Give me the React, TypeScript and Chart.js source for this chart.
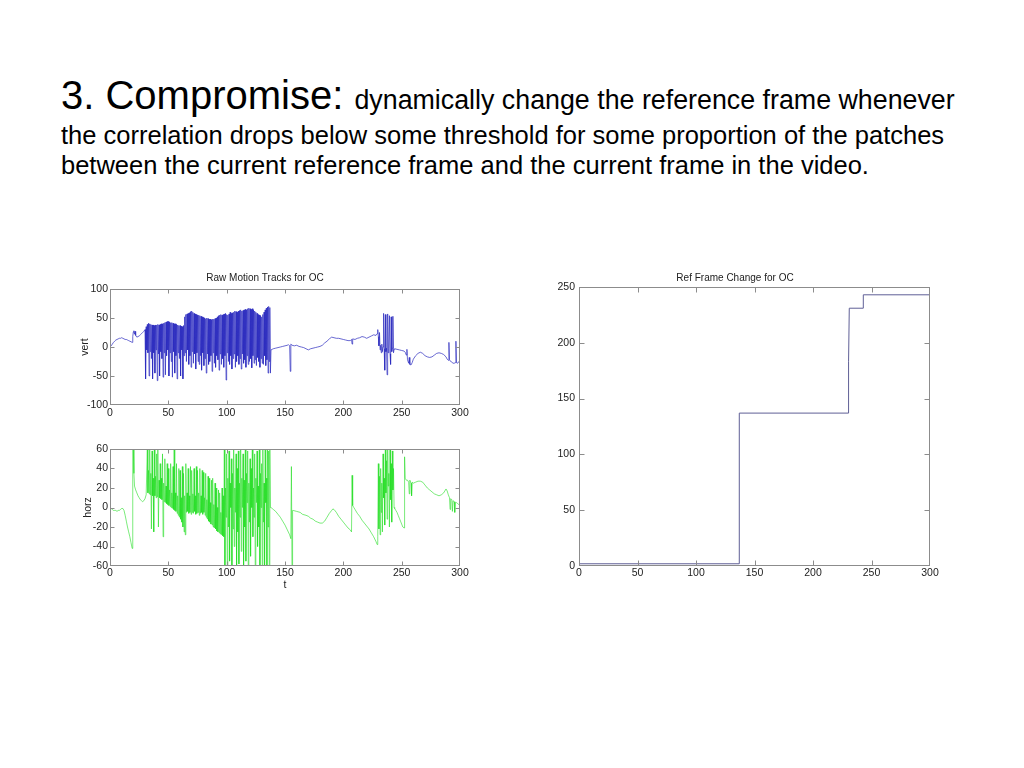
import React, { useEffect, useRef } from "react";
import { Chart, registerables } from "chart.js";

Chart.register(...registerables);

const FONT = '"Liberation Sans", Arial, Helvetica, sans-serif';

// ---------- Top panel: vertical motion ("vert") ----------
const vertPre: number[][] = [
  [0, 0], [1, 2], [2, 5], [3, 8], [4, 10], [5, 12], [6, 13], [7, 14], [8, 15], [9, 15],
  [10, 16], [11, 15], [12, 14], [13, 13], [14, 13], [15, 12], [16, 11], [17, 10], [18, 9], [19, 8],
  [19.5, 18], [20, 26], [20.5, 28], [21, 22], [21.5, 27], [22, 20], [23, 17], [24, 18], [25, 19],
  [26, 21], [27, 23], [28, 25], [29, 27],
];
const vertBurstStart = 30;
const vertBurstTop: number[] = [
  30, 35, 39, 41, 40, 39, 38, 38, 37, 38,
  38, 39, 38, 39, 40, 40, 41, 42, 43, 44,
  44, 43, 42, 42, 41, 40, 40, 39, 38, 37,
  37, 36, 35, 37, 52, 56, 57, 58, 59, 61,
  62, 60, 58, 57, 56, 55, 55, 54, 53, 52,
  51, 50, 49, 50, 49, 48, 48, 47, 48, 48,
  49, 50, 52, 54, 55, 56, 55, 56, 57, 58,
  56, 55, 57, 60, 58, 59, 60, 62, 61, 60,
  62, 63, 64, 62, 63, 64, 65, 64, 66, 67,
  66, 65, 66, 64, 62, 60, 58, 56, 55, 54,
  52, 56, 60, 64, 67, 69, 70, 68,
];
const vertBurstLow: number[] = [
  -55, -5, -10, -50, -8, -20, -55, -10, -45, -5,
  -58, -12, -50, -8, -20, -52, -10, -48, -15, -5,
  -50, -10, -25, -52, -8, -45, -15, -55, -10, -20,
  -50, -5, -55, -15, -10, -25, -5, -30, -15, -35,
  -8, -28, -12, -38, -10, -25, -30, -15, -40, -10,
  -32, -20, -45, -12, -30, -25, -15, -42, -10, -28,
  -35, -15, -22, -40, -12, -30, -20, -35, -15, -57,
  -10, -25, -30, -15, -38, -20, -12, -35, -25, -15,
  -30, -20, -38, -12, -28, -22, -35, -15, -30, -25,
  -20, -36, -15, -28, -22, -32, -18, -25, -35, -20,
  -28, -30, -15, -32, -22, -45, -25, -45,
];
const vertMid: number[][] = [
  [138, -5], [139, -4], [140, -3], [142, -2], [144, -1], [146, 0], [148, 1], [150, 2], [152, 3],
  [153, 4], [154, 2], [154.5, -42], [155, 5], [156, 3], [158, 2], [160, 3], [162, 1], [164, 0],
  [166, -1], [168, -3], [170, -5], [172, -3], [174, -2], [176, -1], [178, 0], [180, 1], [182, 3],
  [184, 7], [186, 10], [188, 14], [190, 17], [192, 16], [194, 15], [196, 15], [198, 14], [200, 13],
  [202, 12], [204, 11], [206, 11], [207, 13], [207.5, 5], [208, 14], [210, 13], [212, 15], [214, 16],
  [216, 18], [218, 17], [220, 15], [222, 17], [224, 19], [226, 21], [228, 20], [229, 23], [229.5, 30],
];
const vertBurst2: number[][] = [
  [230, 18], [230.5, 2], [231, 25], [231.5, -5], [232, 3], [232.5, -10], [233, 5], [233.5, -8],
  [234, 0], [234.5, 58], [235, -3], [235.5, -40], [236, 56], [236.5, -8], [237, -2], [237.5, -48],
  [238, 57], [238.5, -10], [239, -3], [239.5, 54], [240, -12], [240.5, -30], [241, 52], [241.5, -8],
  [242, -2], [242.5, 53], [243, -10], [243.5, -4],
];
const vertPost: number[][] = [
  [244, -3], [246, -4], [248, -5], [250, -6], [252, -7], [253, -9], [254, -14], [254.5, -4],
  [255, -22], [256, -28], [256.5, -18], [257, -30], [258, -31], [259, -27], [260, -21], [262, -15],
  [264, -11], [266, -9], [268, -11], [270, -15], [272, -17], [274, -18], [276, -17], [278, -14],
  [280, -11], [282, -10], [284, -11], [286, -13], [288, -17], [289, -21], [290, -23], [290.5, 8],
  [291, -22], [292, -25], [293, -26], [294, -28], [295, -28], [296, -27], [296.5, 10], [297, -27],
  [298, -28], [299, -25], [300, -24],
];

// ---------- Bottom panel: horizontal motion ("horz") ----------
const horzPre: number[][] = [
  [0, 0], [1, -1], [2, -2], [3, -3], [4, -3], [5, -3], [6, -4], [7, -3], [8, -3], [9, -2],
  [10, -1], [11, -1], [12, -3], [13, -8], [14, -14], [15, -20], [16, -25], [17, -30], [18, -36],
  [19, -42], [19.5, 62], [20, 62], [20.5, 35], [21, 22], [22, 18], [23, 15], [24, 12], [25, 10],
  [26, 8], [27, 7], [28, 6], [29, 7], [30, 9], [31, 13],
];
const horzBurstAStart = 32;
const horzBurstATop: number[] = [
  60, 38, 62, 35, 58, 30, 62, 32, 55, 62,
  28, 45, 30, 55, 25, 50, 22, 45, 40, 18,
  45, 15, 42, 62, 15, 45, 12, 40, 38, 10,
  42, 35, 12, 45, 15, 40, 12, 42, 38, 14,
  40, 12, 42, 38, 15, 40, 12, 38, 36, 10,
  35, 8, 32, 30, 5, 28, 30, 3, 25, 20,
  0, 18, 15, -5, 20, 12,
];
const horzBurstALow: number[] = [
  15, 14, 13, -22, 12, -25, 12, 10, 11, -20,
  10, 9, 8, -30, 6, 5, 4, 3, 2, 1,
  0, -1, -2, -3, -4, -6, -8, -10, -12, -15,
  -20, -25, -28, -5, -4, -6, -5, -7, -5, -6,
  -4, -7, -6, -5, -8, -6, -5, -7, -5, -8,
  -10, -12, -14, -15, -17, -18, -20, -21, -22, -24,
  -25, -26, -27, -28, -29, -30,
];
const horzBurstBStart = 98;
const horzBurstBTop: number[] = [
  62, 20, 55, 30, 58, 25, 50, 35, 62, 20,
  55, 40, 58, 25, 62, 30, 55, 28, 62, 35,
  58, 25, 50, 40, 62, 20, 55, 30, 58, 22,
  62, 35, 45, 62, 25, 62, 30, 62, 58, 62,
];
const horzBurstBLow: number[] = [
  -62, -10, -62, -20, -55, 0, -62, -22, -40, -5,
  -62, -25, -58, -10, -45, 0, -62, -20, -55, 5,
  -62, -15, -50, 0, -30, -10, -62, 5, -40, -20,
  -62, 0, -62, -15, -62, 5, -62, -20, -62, 0,
];
const horzMid: number[][] = [
  [138, 0], [139, -1], [140, -2], [142, -4], [144, -7], [146, -10], [148, -14], [150, -18],
  [152, -23], [154, -28], [155, -32], [155.5, 42], [156, -62], [156.5, -3], [157, -3], [160, -4],
  [163, -5], [165, -7], [168, -8], [170, -9], [172, -11], [174, -12], [176, -14], [178, -15],
  [180, -16], [182, -16], [184, -14], [186, -10], [188, -6], [190, -3], [191, -1.5], [192, -2],
  [194, -5], [196, -9], [198, -12], [200, -15], [202, -18], [204, -21], [206, -23], [207, -25],
  [207.5, 33], [208, 2], [209, 0], [210, -2], [212, -6], [214, -9], [216, -13], [218, -16],
  [220, -19], [222, -22], [224, -26], [226, -30], [228, -35], [229, -38], [229.5, -30],
];
const horzBurstC: number[][] = [
  [230, 45], [230.5, -22], [231, 32], [231.5, -28], [232, 40], [232.5, -5], [233, 25], [233.5, -25],
  [234, 55], [234.5, 10], [235, 30], [235.5, -18], [236, 62], [236.5, 15], [237, 48], [237.5, -12],
  [238, 62], [238.5, 22], [239, 35], [239.5, -20], [240, 62], [240.5, 8], [241, 45], [241.5, -15],
  [242, 58], [242.5, 18], [243, 40], [243.5, 0],
];
const horzPost: number[][] = [
  [244, -1], [245, -3], [246, -5], [247, -8], [248, -11], [249, -14], [250, -17], [251, -20],
  [252, -21], [252.5, 52], [253, 30], [254, 28], [255, 28], [256, 26], [256.5, 14], [257, 28],
  [258, 25], [258.5, 12], [259, 26], [260, 25], [262, 26], [264, 27], [266, 27], [268, 26],
  [270, 23], [272, 20], [274, 18], [276, 16], [278, 14], [280, 13], [282, 12], [284, 13],
  [286, 15], [288, 19], [289, 17], [290, 13], [291, 10], [291.5, -2], [292, 9], [293, 8],
  [293.5, -4], [294, 7], [295, 6], [295.5, -5], [296, 5], [297, 5], [298, 4], [299, 3], [300, 2],
];

// ---------- Right panel: reference frame change ----------
const refT: number[] = [0, 137, 137, 230, 230.4, 231, 243, 243, 300];
const refY: number[] = [2, 2, 137, 137, 183, 231, 231, 243, 243];

// ---------- Axis ticks ----------
const xTicks: number[] = [0, 50, 100, 150, 200, 250, 300];
const vertTicks: number[] = [-100, -50, 0, 50, 100];
const horzTicks: number[] = [-60, -40, -20, 0, 20, 40, 60];
const refTicks: number[] = [0, 50, 100, 150, 200, 250];

type Pt = { x: number; y: number };
const pairs = (list: number[][]): Pt[] => list.map(([x, y]) => ({ x, y }));
const burst = (start: number, tops: number[], lows: number[]): Pt[] => {
  const out: Pt[] = [];
  tops.forEach((t, i) => {
    out.push({ x: start + i, y: t });
    out.push({ x: start + i + 0.5, y: lows[i] });
  });
  return out;
};

const vertSeries: Pt[] = [
  ...pairs(vertPre),
  ...burst(vertBurstStart, vertBurstTop, vertBurstLow),
  ...pairs(vertMid),
  ...pairs(vertBurst2),
  ...pairs(vertPost),
];
const horzSeries: Pt[] = [
  ...pairs(horzPre),
  ...burst(horzBurstAStart, horzBurstATop, horzBurstALow),
  ...burst(horzBurstBStart, horzBurstBTop, horzBurstBLow),
  ...pairs(horzMid),
  ...pairs(horzBurstC),
  ...pairs(horzPost),
];
const refSeries: Pt[] = refT.map((x, i) => ({ x, y: refY[i] }));

type Spec = {
  left: number; top: number; width: number; height: number;
  data: Pt[]; color: string; lineWidth: number;
  yMin: number; yMax: number; yTickList: number[];
  title?: string; yTitle?: string; xTitle?: string;
  yAxisWidth: number; xAxisHeight: number;
  padTop: number; padRight: number; titleBottom: number;
  yTitlePad: number; xTitlePad: number; yTickPad: number; xTickPad: number;
  tickLen: number;
};

const framePlugin = (tickLen: number) => ({
  id: "matlabFrame",
  afterDatasetsDraw(chart: any) {
    const { ctx, chartArea: a, scales } = chart;
    ctx.save();
    ctx.strokeStyle = "#8c8c8c";
    ctx.lineWidth = 1;
    ctx.beginPath();
    const L = Math.round(a.left) + 0.5, R = Math.round(a.right) - 0.5;
    const T = Math.round(a.top) + 0.5, B = Math.round(a.bottom) - 0.5;
    const clamp = (v: number, lo: number, hi: number) => Math.min(hi, Math.max(lo, v));
    for (const t of scales.x.ticks) {
      const px = clamp(Math.round(scales.x.getPixelForValue(t.value)) + 0.5, L, R);
      ctx.moveTo(px, B); ctx.lineTo(px, B - tickLen);
      ctx.moveTo(px, T); ctx.lineTo(px, T + tickLen);
    }
    for (const t of scales.y.ticks) {
      const py = clamp(Math.round(scales.y.getPixelForValue(t.value)) + 0.5, T, B);
      ctx.moveTo(L, py); ctx.lineTo(L + tickLen, py);
      ctx.moveTo(R, py); ctx.lineTo(R - tickLen, py);
    }
    ctx.stroke();
    ctx.strokeRect(L, T, R - L, B - T);
    ctx.restore();
  },
});

function Panel({ s }: { s: Spec }) {
  const ref = useRef<HTMLCanvasElement>(null);
  useEffect(() => {
    const tickFont = { family: FONT, size: 10.5 };
    const chart = new Chart(ref.current as HTMLCanvasElement, {
      type: "line",
      data: {
        datasets: [
          {
            data: s.data as any,
            borderColor: s.color,
            borderWidth: s.lineWidth,
            pointRadius: 0,
            fill: false,
            tension: 0,
          },
        ],
      },
      options: {
        responsive: false,
        animation: false,
        events: [],
        layout: { padding: { top: s.padTop, right: s.padRight, bottom: 0, left: 0 } },
        plugins: {
          legend: { display: false },
          tooltip: { enabled: false },
          title: {
            display: !!s.title,
            text: s.title || "",
            color: "#222",
            font: { family: FONT, size: 10, weight: "normal", lineHeight: "10px" } as any,
            padding: { top: 0, bottom: s.titleBottom },
          },
        },
        scales: {
          x: {
            type: "linear",
            min: 0,
            max: 300,
            afterBuildTicks: (sc: any) => { sc.ticks = xTicks.map((v) => ({ value: v })); },
            afterFit: (sc: any) => { sc.height = s.xAxisHeight; },
            ticks: { autoSkip: false, maxRotation: 0, padding: s.xTickPad, color: "#222", font: tickFont },
            grid: { display: false, drawTicks: false, tickLength: 0 },
            border: { display: false },
            title: {
              display: !!s.xTitle,
              text: s.xTitle || "",
              color: "#222",
              font: tickFont,
              padding: { top: 0, bottom: s.xTitlePad },
            },
          },
          y: {
            type: "linear",
            min: s.yMin,
            max: s.yMax,
            afterBuildTicks: (sc: any) => { sc.ticks = s.yTickList.map((v) => ({ value: v })); },
            afterFit: (sc: any) => { sc.width = s.yAxisWidth; },
            ticks: { padding: s.yTickPad, color: "#222", font: tickFont },
            grid: { display: false, drawTicks: false, tickLength: 0 },
            border: { display: false },
            title: {
              display: !!s.yTitle,
              text: s.yTitle || "",
              color: "#222",
              font: tickFont,
              padding: { top: s.yTitlePad, bottom: 0 },
            },
          },
        },
      },
      plugins: [framePlugin(s.tickLen)],
    });
    return () => chart.destroy();
  }, []);
  return (
    <canvas
      ref={ref}
      width={s.width}
      height={s.height}
      style={{ position: "absolute", left: s.left, top: s.top, width: s.width, height: s.height }}
    />
  );
}

const vertSpec: Spec = {
  left: 70, top: 273, width: 410, height: 152,
  data: vertSeries, color: "#2a2abe", lineWidth: 0.7,
  yMin: -100, yMax: 100, yTickList: vertTicks,
  title: "Raw Motion Tracks for OC", yTitle: "vert",
  yAxisWidth: 40, xAxisHeight: 20, padTop: 0, padRight: 20, titleBottom: 6,
  yTitlePad: 8.5, xTitlePad: 0, yTickPad: 2, xTickPad: 1.5, tickLen: 4,
};
const horzSpec: Spec = {
  left: 70, top: 439, width: 410, height: 153,
  data: horzSeries, color: "#22dd22", lineWidth: 0.6,
  yMin: -60, yMax: 60, yTickList: horzTicks,
  yTitle: "horz", xTitle: "t",
  yAxisWidth: 40, xAxisHeight: 26, padTop: 10, padRight: 20, titleBottom: 0,
  yTitlePad: 11.5, xTitlePad: 0.5, yTickPad: 2, xTickPad: 0.5, tickLen: 4,
};
const refSpec: Spec = {
  left: 540, top: 273, width: 410, height: 313,
  data: refSeries, color: "#5f5f96", lineWidth: 1,
  yMin: 0, yMax: 250, yTickList: refTicks,
  title: "Ref Frame Change for OC",
  yAxisWidth: 39, xAxisHeight: 20, padTop: 0, padRight: 20, titleBottom: 4,
  yTitlePad: 0, xTitlePad: 0, yTickPad: 4, xTickPad: 0.5, tickLen: 5,
};

export default function App() {
  return (
    <div style={{ position: "absolute", left: 0, top: 0, width: 1024, height: 768, background: "#fff", overflow: "hidden" }}>
      <div style={{ position: "absolute", left: 61, top: 75, fontFamily: FONT, color: "#000", whiteSpace: "nowrap", fontSize: 40, lineHeight: "40px" }}>
        3. Compromise: <span style={{ fontSize: 26.8 }}>dynamically change the reference frame whenever</span>
      </div>
      <div style={{ position: "absolute", left: 61, top: 120, fontFamily: FONT, color: "#000", whiteSpace: "nowrap", fontSize: 25.5, lineHeight: "30px" }}>
        the correlation drops below some threshold for some proportion of the patches
      </div>
      <div style={{ position: "absolute", left: 61, top: 150, fontFamily: FONT, color: "#000", whiteSpace: "nowrap", fontSize: 25.5, lineHeight: "30px" }}>
        between the current reference frame and the current frame in the video.
      </div>
      <Panel s={vertSpec} />
      <Panel s={horzSpec} />
      <Panel s={refSpec} />
    </div>
  );
}
